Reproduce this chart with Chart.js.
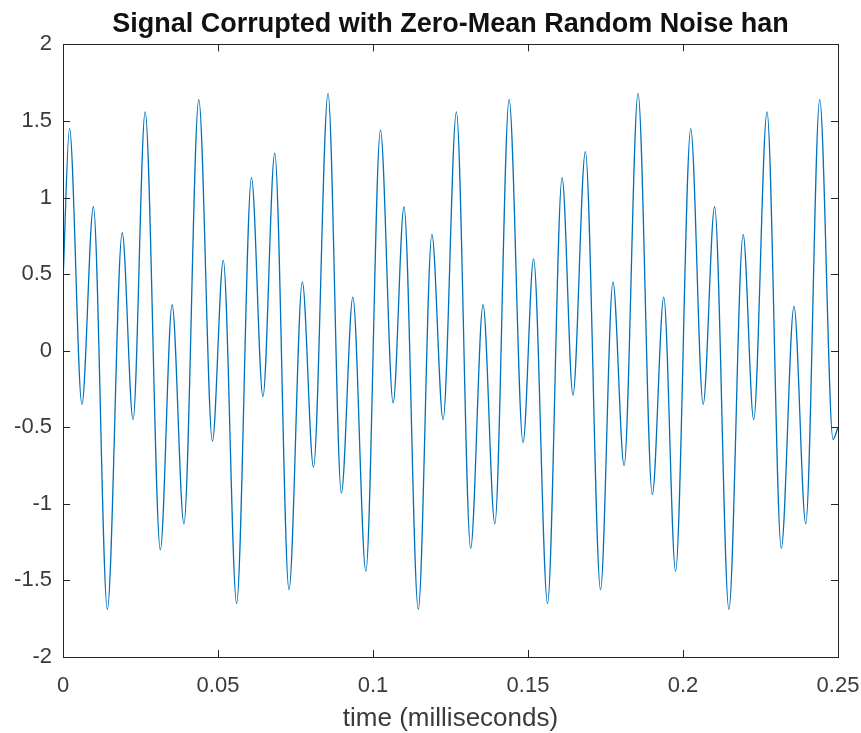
<!DOCTYPE html>
<html>
<head>
<meta charset="utf-8">
<title>Signal Corrupted with Zero-Mean Random Noise</title>
<script src="https://cdn.jsdelivr.net/npm/chart.js@4.4.1/dist/chart.umd.min.js"></script>
<style>
  html, body { margin: 0; padding: 0; background: #fff; }
  canvas { display: block; }
</style>
</head>
<body>
<canvas id="signalChart" width="861" height="733"></canvas>
<script>
// turning points of the sampled signal (time in ms, amplitude)
const timeMs = [
  0, 0.0021, 0.0061, 0.0098, 0.0143, 0.0191, 0.0226, 0.0265, 0.0314, 0.0352,
  0.0390, 0.0438, 0.0482, 0.0517, 0.0560, 0.0608, 0.0645, 0.0683, 0.0729, 0.0772,
  0.0808, 0.0855, 0.0898, 0.0935, 0.0977, 0.1024, 0.1065, 0.1100, 0.1146, 0.1190,
  0.1226, 0.1269, 0.1315, 0.1355, 0.1393, 0.1439, 0.1484, 0.1518, 0.1563, 0.1610,
  0.1645, 0.1685, 0.1734, 0.1774, 0.1810, 0.1855, 0.1901, 0.1938, 0.1976, 0.2025,
  0.2065, 0.2102, 0.2148, 0.2194, 0.2228, 0.2271, 0.2317, 0.2358, 0.2396, 0.2441,
  0.2484, 0.25
];
const amplitude = [
  0.45, 1.45, -0.35, 0.94, -1.69, 0.77, -0.45, 1.56, -1.30, 0.30,
  -1.13, 1.64, -0.59, 0.59, -1.65, 1.13, -0.30, 1.29, -1.56, 0.45,
  -0.76, 1.68, -0.93, 0.35, -1.44, 1.44, -0.34, 0.94, -1.69, 0.76,
  -0.45, 1.56, -1.29, 0.30, -1.13, 1.64, -0.60, 0.60, -1.65, 1.13,
  -0.29, 1.30, -1.56, 0.45, -0.75, 1.68, -0.94, 0.35, -1.44, 1.45,
  -0.35, 0.94, -1.69, 0.76, -0.45, 1.56, -1.29, 0.29, -1.13, 1.64,
  -0.58, -0.50
];

const xRange = [0, 0.25];
const xStep = 0.05;
const yRange = [-2, 2];
const yStep = 0.5;

const axisColor = "#262626";
const labelColor = "#3a3a3a";
const fontFamily = "'Liberation Sans', Arial, Helvetica, sans-serif";

const points = timeMs.map((t, i) => ({ x: t, y: amplitude[i] }));

// closed axes box with ticks pointing inward on all four sides
const boxAxes = {
  id: "boxAxes",
  afterDraw(chart) {
    const { ctx, chartArea: a, scales } = chart;
    const len = 7;
    ctx.save();
    ctx.strokeStyle = axisColor;
    ctx.lineWidth = 1;
    ctx.beginPath();
    scales.x.ticks.forEach((t) => {
      const px = Math.round(scales.x.getPixelForValue(t.value)) + 0.5;
      ctx.moveTo(px, a.bottom);
      ctx.lineTo(px, a.bottom - len);
      ctx.moveTo(px, a.top);
      ctx.lineTo(px, a.top + len);
    });
    scales.y.ticks.forEach((t) => {
      const py = Math.round(scales.y.getPixelForValue(t.value)) + 0.5;
      ctx.moveTo(a.left, py);
      ctx.lineTo(a.left + len, py);
      ctx.moveTo(a.right, py);
      ctx.lineTo(a.right - len, py);
    });
    ctx.stroke();
    ctx.strokeRect(Math.round(a.left) + 0.5, Math.round(a.top) + 0.5,
      Math.round(a.width), Math.round(a.height));
    ctx.restore();
  },
};

new Chart(document.getElementById("signalChart"), {
  type: "line",
  data: {
    datasets: [
      {
        data: points,
        borderColor: "#0072BD",
        borderWidth: 1.3,
        pointRadius: 0,
        cubicInterpolationMode: "monotone",
        fill: false,
      },
    ],
  },
  options: {
    responsive: false,
    animation: false,
    devicePixelRatio: 1,
    layout: { padding: { left: 0, right: 23, top: 0, bottom: 0 } },
    plugins: {
      legend: { display: false },
      tooltip: { enabled: false },
      title: {
        display: true,
        fullSize: false,
        text: "Signal Corrupted with Zero-Mean Random Noise han",
        color: "#111",
        font: { family: fontFamily, size: 27, weight: "bold" },
        padding: { top: 8, bottom: 4 },
      },
    },
    scales: {
      x: {
        type: "linear",
        min: xRange[0],
        max: xRange[1],
        grid: { display: false, drawTicks: false },
        border: { display: false },
        ticks: {
          stepSize: xStep,
          color: labelColor,
          padding: 16,
          maxRotation: 0,
          font: { family: fontFamily, size: 22 },
          callback: (v) => String(+v.toFixed(2)),
        },
        title: {
          display: true,
          text: "time (milliseconds)",
          color: labelColor,
          font: { family: fontFamily, size: 26, lineHeight: 1.1 },
          padding: { top: 0, bottom: 0 },
        },
        afterFit: (scale) => {
          scale.height = 76;
          scale.paddingLeft = 0;
          scale.paddingRight = 0;
        },
      },
      y: {
        min: yRange[0],
        max: yRange[1],
        grid: { display: false, drawTicks: false },
        border: { display: false },
        ticks: {
          stepSize: yStep,
          color: labelColor,
          padding: 11,
          font: { family: fontFamily, size: 22 },
          callback: (v) => String(+v.toFixed(1)),
        },
        afterFit: (scale) => {
          scale.width = 63;
          scale.paddingTop = 0;
          scale.paddingBottom = 0;
        },
      },
    },
  },
  plugins: [boxAxes],
});
</script>
</body>
</html>
